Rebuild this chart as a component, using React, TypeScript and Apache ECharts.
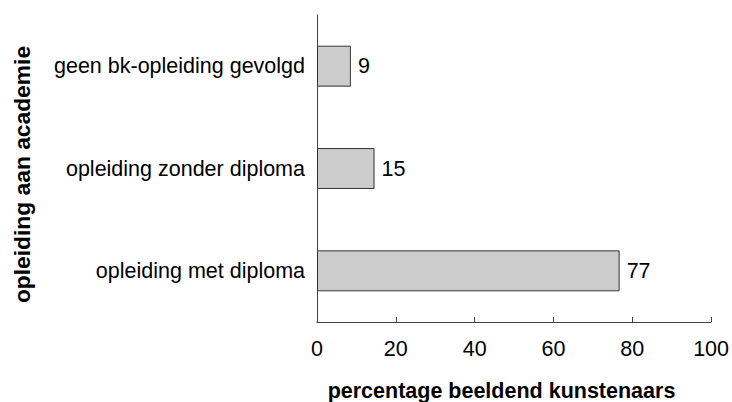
import React, { useEffect, useRef } from "react";
import * as echarts from "echarts";

const categories = ["opleiding met diploma", "opleiding zonder diploma", "geen bk-opleiding gevolgd"];
const values = [76.8, 14.6, 8.6];
const xTicks = [0, 20, 40, 60, 80, 100];
const xTitle = "percentage beeldend kunstenaars";
const yTitle = "opleiding aan academie";

export default function App() {
  const ref = useRef<HTMLDivElement>(null);
  useEffect(() => {
    if (!ref.current) return;
    const chart = echarts.init(ref.current, null, { renderer: "svg" });
    const font = "'Liberation Sans', Arial, Helvetica, sans-serif";
    const fs = 21.5;
    chart.setOption({
      animation: false,
      grid: { left: 317, right: 18, top: 15, bottom: 80, containLabel: false },
      xAxis: {
        type: "value",
        min: xTicks[0],
        max: xTicks[xTicks.length - 1],
        interval: 20,
        splitLine: { show: false },
        axisLine: { show: true, lineStyle: { color: "#444", width: 1 } },
        axisTick: { show: true, inside: true, length: 5, lineStyle: { color: "#444" } },
        axisLabel: { color: "#000", fontSize: fs, fontFamily: font, margin: 16 },
      },
      yAxis: {
        type: "category",
        data: categories,
        axisLine: { show: true, lineStyle: { color: "#444", width: 1 } },
        axisTick: { show: false },
        axisLabel: { color: "#000", fontSize: fs, fontFamily: font, margin: 12 },
      },
      series: [
        {
          type: "bar",
          data: values,
          barWidth: "40%",
          itemStyle: { color: "#cccccc", borderColor: "#333", borderWidth: 1 },
          label: {
            show: true,
            position: "right",
            distance: 7,
            color: "#000",
            fontSize: fs,
            fontFamily: font,
            formatter: (p: any) => String(Math.round(p.value)),
          },
        },
      ],
      graphic: [
        {
          type: "text",
          x: 501.5,
          y: 391,
          style: {
            text: xTitle,
            fontSize: fs,
            fontWeight: "bold",
            fontFamily: font,
            fill: "#000",
            align: "center",
            verticalAlign: "middle",
          },
        },
        {
          type: "text",
          x: 22,
          y: 174.5,
          rotation: Math.PI / 2,
          style: {
            text: yTitle,
            fontSize: 22.8,
            fontWeight: "bold",
            fontFamily: font,
            fill: "#000",
            align: "center",
            verticalAlign: "middle",
          },
        },
      ],
    });
    return () => chart.dispose();
  }, []);
  return <div ref={ref} style={{ width: 732, height: 402, position: "absolute", left: 0, top: 0 }} />;
}
